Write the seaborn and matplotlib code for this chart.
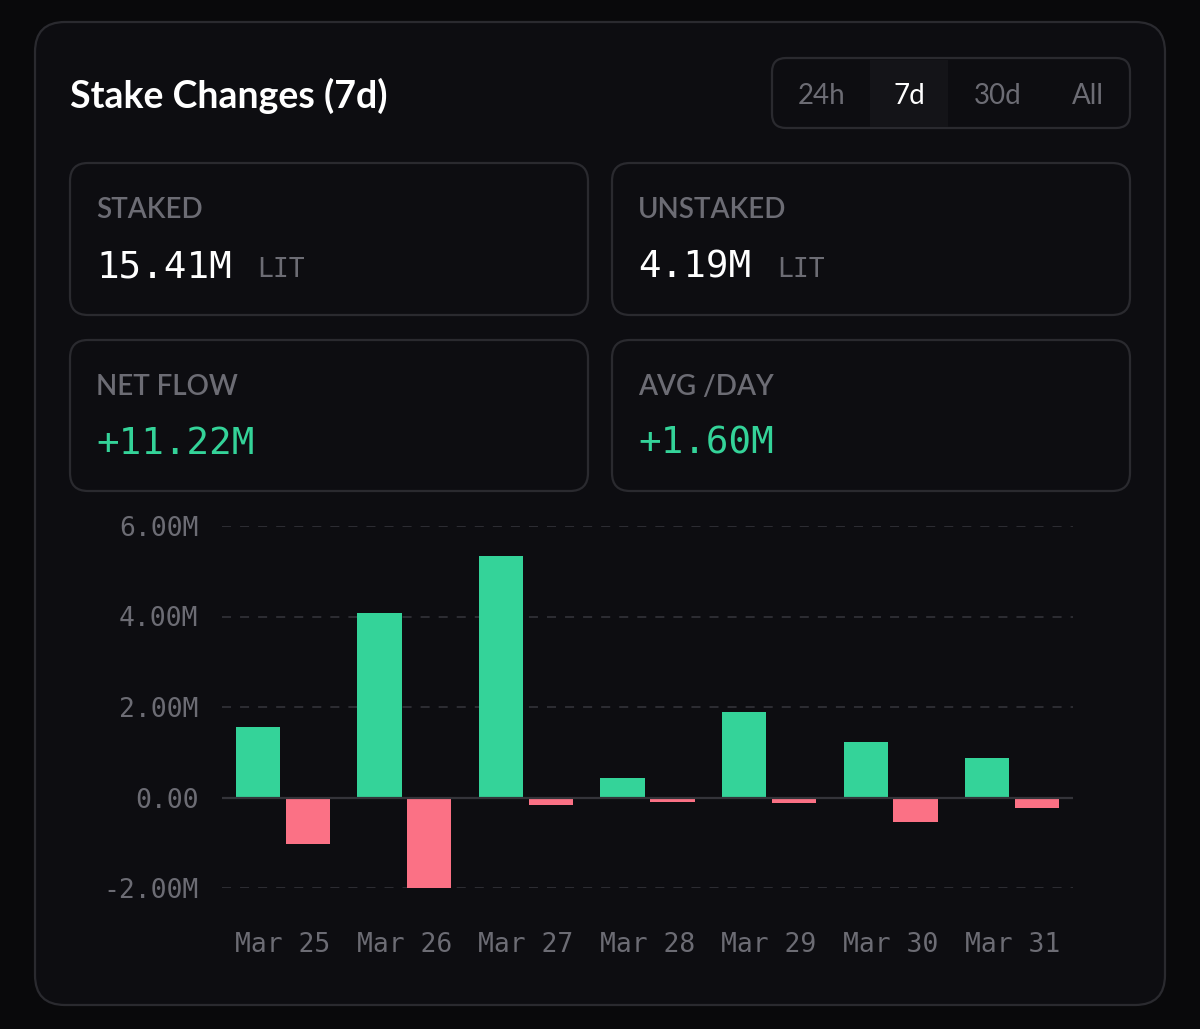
import pandas as pd
import matplotlib.pyplot as plt
import seaborn as sns
from matplotlib.patches import FancyBboxPatch

# daily stake flow, in millions of LIT
days = ["Mar 25", "Mar 26", "Mar 27", "Mar 28", "Mar 29", "Mar 30", "Mar 31"]
staked = [1.55, 4.08, 5.34, 0.42, 1.90, 1.23, 0.87]
unstaked = [-1.02, -2.00, -0.16, -0.11, -0.12, -0.55, -0.24]
y_ticks = [-2, 0, 2, 4, 6]

periods = ["24h", "7d", "30d", "All"]
active_period = "7d"

stats = [("STAKED", "15.41M", "LIT"), ("UNSTAKED", "4.19M", "LIT"),
         ("NET FLOW", "+11.22M", ""), ("AVG /DAY", "+1.60M", "")]

BG = "#09090b"
CARD = "#0d0d11"
BORDER = "#2a2a2f"
MUTED = "#6c6c74"
GREEN = "#34d399"
RED = "#fb7185"
SANS = ["Lato", "DejaVu Sans"]
MONO = "DejaVu Sans Mono"

df = pd.DataFrame({
    "day": days * 2,
    "value": staked + unstaked,
    "kind": ["Staked"] * len(days) + ["Unstaked"] * len(days),
})

sns.set_theme(style="dark")
fig = plt.figure(figsize=(12, 10.29), dpi=100, facecolor=BG)

# pixel-space layer for the card, stats and selector
bg = fig.add_axes([0, 0, 1, 1], zorder=0)
bg.set_xlim(0, 1200)
bg.set_ylim(1029, 0)
bg.axis("off")

def box(x0, y0, x1, y1, r, fc, ec):
    bg.add_patch(FancyBboxPatch((x0, y0), x1 - x0, y1 - y0,
                                boxstyle=f"round,pad=0,rounding_size={r}",
                                fc=fc, ec=ec, lw=1.6))

box(35, 22, 1165, 1005, 30, CARD, BORDER)
bg.text(70, 108, "Stake Changes (7d)", color="white", fontsize=27,
        fontweight="bold", family=SANS, va="baseline")

# period selector
box(772, 58, 1130, 128, 14, CARD, BORDER)
seg_x = [822, 909, 998, 1088]
bg.add_patch(plt.Rectangle((870, 59.5), 78, 67, fc="#141418", ec="none"))
for p, x in zip(periods, seg_x):
    bg.text(x, 104, p, color="white" if p == active_period else MUTED,
            fontsize=20, family=SANS, ha="center", va="baseline")

# stat cards
card_pos = [(70, 163, 588, 315), (612, 163, 1130, 315),
            (70, 340, 588, 491), (612, 340, 1130, 491)]
for (label, val, unit), (x0, y0, x1, y1) in zip(stats, card_pos):
    box(x0, y0, x1, y1, 18, CARD, BORDER)
    tx = x0 + 26
    bg.text(tx, y0 + 55, label, color=MUTED, fontsize=20, family=SANS,
            fontweight="semibold", va="baseline")
    col = GREEN if val.startswith("+") else "white"
    t = bg.text(tx, y0 + 114, val, color=col, fontsize=27, family=MONO,
                va="baseline")
    if unit:
        fig.canvas.draw()
        bb = t.get_window_extent().transformed(bg.transData.inverted())
        bg.text(bb.x1 + 26, y0 + 114, unit, color=MUTED, fontsize=19,
                family=MONO, va="baseline")

# bar chart
ax = fig.add_axes([222 / 1200, 1 - 888 / 1029, 851 / 1200, 362 / 1029], zorder=1)
ax.set_facecolor("none")
sns.barplot(data=df, x="day", y="value", hue="kind", order=days,
            palette={"Staked": GREEN, "Unstaked": RED}, width=0.82, gap=0.11,
            saturation=1, legend=False, linewidth=0, edgecolor="none", ax=ax)
ax.set_xlim(-0.5, 6.5)
ax.set_ylim(-2.0, 6.0)
ax.set_yticks(y_ticks)
ax.set_yticklabels(["0.00" if v == 0 else f"{v:.2f}M" for v in y_ticks])
ax.yaxis.grid(True, color="#303036", lw=1.3, linestyle=(0, (5, 5)))
ax.xaxis.grid(False)
ax.set_axisbelow(True)
ax.axhline(0, color="#34343a", lw=1.6, zorder=1.5)
for s in ax.spines.values():
    s.set_visible(False)
ax.tick_params(axis="y", length=0, pad=17, labelcolor=MUTED, labelsize=19)
ax.tick_params(axis="x", length=0, pad=32, labelcolor=MUTED, labelsize=19)
for lab in ax.get_xticklabels() + ax.get_yticklabels():
    lab.set_family(MONO)
ax.set_xlabel("")
ax.set_ylabel("")

fig.savefig("out.png", dpi=100, facecolor=BG)
